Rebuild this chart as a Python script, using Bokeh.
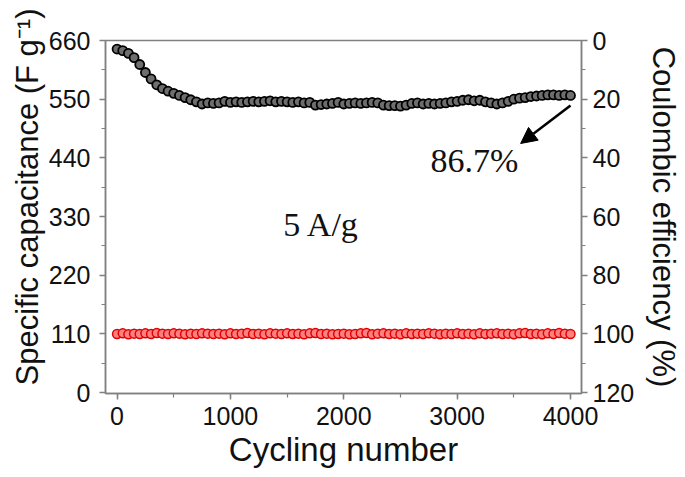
from bokeh.plotting import figure
from bokeh.models import (Range1d, LinearAxis, SingleIntervalTicker, Label,
                          Arrow, NormalHead, Title)
from bokeh.embed import file_html
from bokeh.resources import INLINE

cycles = [0, 50, 100, 150, 200, 250, 300, 350, 400, 450, 500, 550, 600, 650,
          700, 750, 800, 850, 900, 950, 1000, 1050, 1100, 1150, 1200, 1250,
          1300, 1350, 1400, 1450, 1500, 1550, 1600, 1650, 1700, 1750, 1800,
          1850, 1900, 1950, 2000, 2050, 2100, 2150, 2200, 2250, 2300, 2350,
          2400, 2450, 2500, 2550, 2600, 2650, 2700, 2750, 2800, 2850, 2900,
          2950, 3000, 3050, 3100, 3150, 3200, 3250, 3300, 3350, 3400, 3450,
          3500, 3550, 3600, 3650, 3700, 3750, 3800, 3850, 3900, 3950, 4000]

capacitance = [644, 641, 636, 628, 615, 600, 588, 577, 570, 565, 561, 557,
               553, 549, 545, 541, 543, 542, 543, 546, 544, 545, 544, 545,
               546, 545, 546, 547, 545, 546, 545, 544, 545, 543, 544, 539,
               540, 541, 542, 544, 541, 542, 543, 542, 543, 544, 543, 539,
               538, 538, 537, 539, 542, 543, 541, 542, 541, 542, 543, 545,
               546, 548, 549, 547, 548, 545, 543, 541, 543, 546, 550, 552,
               553, 555, 556, 557, 558, 558, 557, 558, 557]

efficiency = [100.0, 99.8, 100.1, 99.9, 100.0, 99.8, 100.0, 99.7, 99.9, 100.0,
              99.8, 99.9, 100.1, 99.9, 100.0, 99.8, 99.9, 100.0, 99.9, 100.1,
              99.8, 100.0, 99.9, 99.7, 100.0, 99.9, 100.1, 99.8, 99.9, 100.0,
              99.8, 100.0, 99.9, 100.1, 99.8, 99.7, 100.0, 99.9, 100.1, 100.0,
              99.9, 100.1, 100.0, 99.8, 99.7, 100.1, 99.9, 99.8, 100.0, 99.9,
              100.1, 99.8, 100.0, 99.9, 100.0, 99.8, 99.9, 100.1, 99.9, 100.0,
              99.8, 100.0, 99.9, 100.1, 99.8, 100.0, 99.9, 99.8, 100.0, 99.9,
              100.1, 99.8, 99.7, 100.0, 99.9, 100.1, 99.8, 100.0, 99.7, 99.9,
              100.0]

left_ticks_interval = 110
right_ticks_interval = 20
x_ticks_interval = 1000

SANS = "Liberation Sans"
SERIF = "Liberation Serif"
AXIS_COLOR = "#808080"

p = figure(width=685, height=477, output_backend="svg", toolbar_location=None,
           x_range=Range1d(-102, 4097), y_range=Range1d(-1.5, 660),
           min_border_left=105, min_border_right=104, min_border_top=40,
           min_border_bottom=84)
p.xgrid.visible = False
p.ygrid.visible = False
p.outline_line_color = AXIS_COLOR
p.outline_line_width = 1.5
p.background_fill_color = "white"
p.border_fill_color = "white"

p.extra_y_ranges = {"ce": Range1d(120.3, 0)}
right_axis = LinearAxis(y_range_name="ce",
                        ticker=SingleIntervalTicker(interval=right_ticks_interval,
                                                    num_minor_ticks=2),
                        axis_label="Coulombic efficiency (%)")
p.add_layout(right_axis, "right")

p.xaxis.ticker = SingleIntervalTicker(interval=x_ticks_interval, num_minor_ticks=2)
p.yaxis[0].ticker = SingleIntervalTicker(interval=left_ticks_interval, num_minor_ticks=2)
p.xaxis.axis_label = "Cycling number"

left_title = Title(text="Specific capacitance (F g\u207b\u00b9)", align="right",
                   offset=-32, text_font=SANS, text_font_size="31px",
                   text_font_style="normal", text_color="#111111", standoff=2)
p.add_layout(left_title, "left")

for ax in p.axis:
    ax.axis_line_color = AXIS_COLOR
    ax.axis_line_width = 1.5
    ax.major_tick_line_color = AXIS_COLOR
    ax.minor_tick_line_color = AXIS_COLOR
    ax.major_tick_line_width = 1.5
    ax.minor_tick_line_width = 1.2
    ax.major_tick_out = 6
    ax.major_tick_in = 0
    ax.minor_tick_out = 4
    ax.minor_tick_in = 0
    ax.major_label_text_font = SANS
    ax.major_label_text_font_size = "25px"
    ax.major_label_text_color = "#111111"
    ax.axis_label_text_font = SANS
    ax.axis_label_text_font_style = "normal"
    ax.axis_label_text_color = "#111111"

p.xaxis.major_label_standoff = 7
p.xaxis.axis_label_standoff = 3
p.xaxis.axis_label_text_font_size = "33px"
p.yaxis[0].major_label_standoff = 9
right_axis.major_label_standoff = 5
right_axis.axis_label_standoff = 9
right_axis.axis_label_text_font_size = "31px"

p.scatter(cycles, efficiency, y_range_name="ce", marker="circle", size=9,
          line_color="#e00000", fill_color="#ff8080", line_width=1.5)
p.scatter(cycles, capacitance, marker="circle", size=9,
          line_color="#000000", fill_color="#6e6e6e", line_width=1.8)

p.add_layout(Label(x=1466, y=315, text="5 A/g", text_font=SERIF,
                   text_font_size="34px", text_baseline="alphabetic",
                   text_color="#111111"))
p.add_layout(Label(x=2764, y=436, text="86.7%", text_font=SERIF,
                   text_font_size="34px", text_baseline="alphabetic",
                   text_color="#111111"))
p.add_layout(Arrow(end=NormalHead(size=16, fill_color="black", line_color="black"),
                   x_start=4000, y_start=538, x_end=3560, y_end=467,
                   line_width=2.5, line_color="black"))

open("out.html", "w").write(file_html(p, INLINE))
